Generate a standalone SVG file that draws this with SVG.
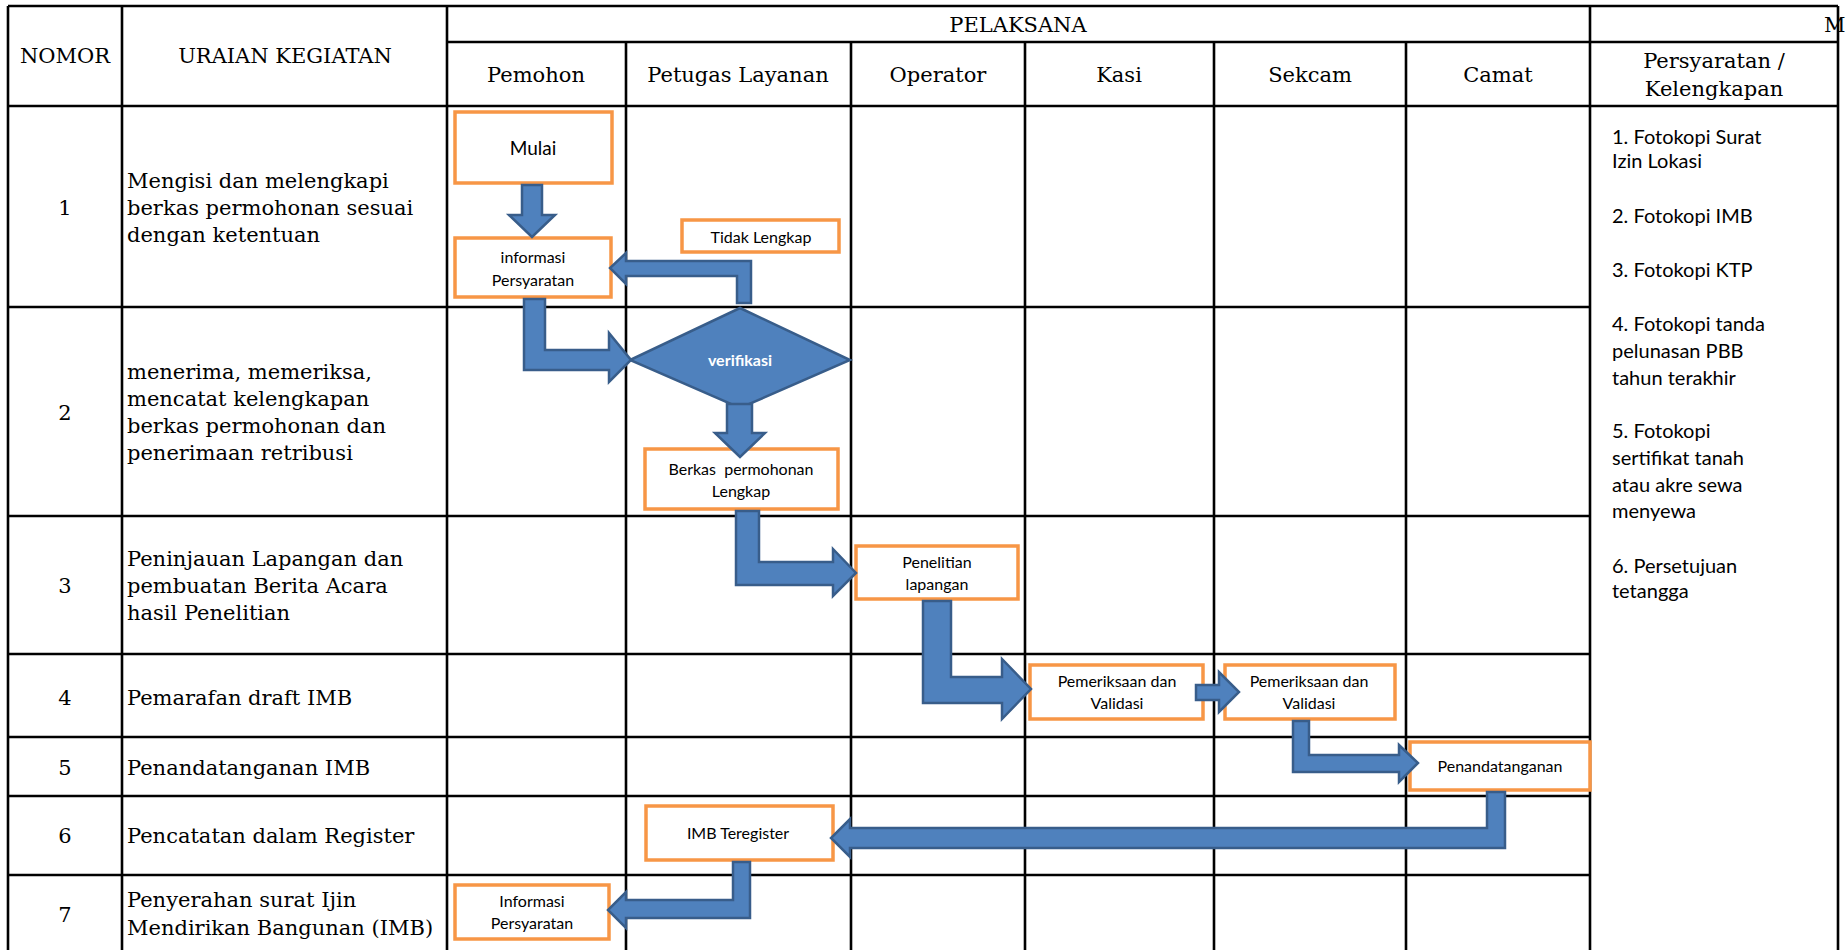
<svg xmlns="http://www.w3.org/2000/svg" width="1847" height="950" viewBox="0 0 1847 950">
<style>
.grid{stroke:#000;stroke-width:2.6;fill:none}
.ser{font-family:"DejaVu Serif","Liberation Serif",serif;font-size:21px;fill:#000}
.mid{text-anchor:middle}
.box{fill:#fff;stroke:#F79646;stroke-width:3.5}
.bt{font-family:Lato,"Liberation Sans",sans-serif;font-size:16px;fill:#000;text-anchor:middle}
.req{font-family:Lato,"Liberation Sans",sans-serif;font-size:20px;fill:#000}
.arr{fill:#4F81BD;stroke:#385D8A;stroke-width:2.5;stroke-linejoin:miter}
</style>
<rect width="1847" height="950" fill="#fff"/>
<g id="table">
<path class="grid" d="M8 6V950M122 6V950M447 6V950M626 42V950M851 42V950M1025 42V950M1214 42V950M1406 42V950M1590 6V950M1838 6V950"/>
<path class="grid" d="M8 6H1838M447 42H1838M8 106H1838M8 307H1590M8 516H1590M8 654H1590M8 737H1590M8 796H1590M8 875H1590"/>
</g>
<g id="headers" class="ser">
<text class="mid" x="65" y="63">NOMOR</text>
<text class="mid" x="285" y="63">URAIAN KEGIATAN</text>
<text class="mid" x="1018" y="32">PELAKSANA</text>
<text x="1824" y="32">M</text>
<text class="mid" x="536" y="82">Pemohon</text>
<text class="mid" x="738" y="82">Petugas Layanan</text>
<text class="mid" x="938" y="82">Operator</text>
<text class="mid" x="1119" y="82">Kasi</text>
<text class="mid" x="1310" y="82">Sekcam</text>
<text class="mid" x="1498" y="82">Camat</text>
<text class="mid" x="1714" y="68">Persyaratan /</text>
<text class="mid" x="1714" y="96">Kelengkapan</text>
</g>
<g id="rows" class="ser">
<text class="mid" x="65" y="215">1</text>
<text x="127" y="188">Mengisi dan melengkapi</text>
<text x="127" y="215">berkas permohonan sesuai</text>
<text x="127" y="242">dengan ketentuan</text>
<text class="mid" x="65" y="420">2</text>
<text x="127" y="379">menerima, memeriksa,</text>
<text x="127" y="406">mencatat kelengkapan</text>
<text x="127" y="433">berkas permohonan dan</text>
<text x="127" y="460">penerimaan retribusi</text>
<text class="mid" x="65" y="593">3</text>
<text x="127" y="566">Peninjauan Lapangan dan</text>
<text x="127" y="593">pembuatan Berita Acara</text>
<text x="127" y="620">hasil Penelitian</text>
<text class="mid" x="65" y="705">4</text>
<text x="127" y="705">Pemarafan draft IMB</text>
<text class="mid" x="65" y="775">5</text>
<text x="127" y="775">Penandatanganan IMB</text>
<text class="mid" x="65" y="843">6</text>
<text x="127" y="843">Pencatatan dalam Register</text>
<text class="mid" x="65" y="922">7</text>
<text x="127" y="907">Penyerahan surat Ijin</text>
<text x="127" y="935">Mendirikan Bangunan (IMB)</text>
</g>
<g id="requirements" class="req">
<text x="1612" y="144">1. Fotokopi Surat</text>
<text x="1612" y="168">Izin Lokasi</text>
<text x="1612" y="223">2. Fotokopi IMB</text>
<text x="1612" y="277">3. Fotokopi KTP</text>
<text x="1612" y="331">4. Fotokopi tanda</text>
<text x="1612" y="358">pelunasan PBB</text>
<text x="1612" y="385">tahun terakhir</text>
<text x="1612" y="438">5. Fotokopi</text>
<text x="1612" y="465">sertifikat tanah</text>
<text x="1612" y="492">atau akre sewa</text>
<text x="1612" y="518">menyewa</text>
<text x="1612" y="573">6. Persetujuan</text>
<text x="1612" y="598">tetangga</text>
</g>
<g id="n-mulai">
<rect class="box" x="455" y="112" width="157" height="71"/>
<text class="bt" x="533" y="155" style="font-size:19px">Mulai</text>
</g>
<g id="n-informasi1">
<rect class="box" x="455" y="238" width="156" height="59"/>
<text class="bt" x="533" y="263">informasi</text>
<text class="bt" x="533" y="286">Persyaratan</text>
</g>
<g id="n-tidak">
<rect class="box" x="682" y="220" width="157" height="32"/>
<text class="bt" x="761" y="243">Tidak Lengkap</text>
</g>
<g id="n-verifikasi">
<polygon points="740,308 850,360 740,408 630,360" fill="#4F81BD" stroke="#385D8A" stroke-width="2.5"/>
<text class="bt" x="740" y="366" style="fill:#fff;font-weight:bold">verifikasi</text>
</g>
<g id="n-berkas">
<rect class="box" x="645" y="449" width="193" height="60"/>
<text class="bt" x="741" y="475" xml:space="preserve">Berkas  permohonan</text>
<text class="bt" x="741" y="497">Lengkap</text>
</g>
<g id="n-penelitian">
<rect class="box" x="856" y="546" width="162" height="53"/>
<text class="bt" x="937" y="568">Penelitian</text>
<text class="bt" x="937" y="590">lapangan</text>
</g>
<g id="n-kasi">
<rect class="box" x="1030" y="665" width="173" height="54"/>
<text class="bt" x="1117" y="687">Pemeriksaan dan</text>
<text class="bt" x="1117" y="709">Validasi</text>
</g>
<g id="n-sekcam">
<rect class="box" x="1225" y="665" width="170" height="54"/>
<text class="bt" x="1309" y="687">Pemeriksaan dan</text>
<text class="bt" x="1309" y="709">Validasi</text>
</g>
<g id="n-camat">
<rect class="box" x="1410" y="742" width="180" height="48"/>
<text class="bt" x="1500" y="772">Penandatanganan</text>
</g>
<g id="n-register">
<rect class="box" x="646" y="806" width="187" height="54"/>
<text class="bt" x="738" y="839">IMB Teregister</text>
</g>
<g id="n-informasi2">
<rect class="box" x="455" y="885" width="154" height="54"/>
<text class="bt" x="532" y="907">Informasi</text>
<text class="bt" x="532" y="929">Persyaratan</text>
</g>
<g id="connectors">
<polygon class="arr" points="522,185 542,185 542,215 555,215 532,237 509,215 522,215"/>
<polygon class="arr" points="524,299 545,299 545,350 609,350 609,333 631,360 609,382 609,370 524,370"/>
<polygon class="arr" points="751,303 751,261 626,261 626,253 610,268 626,284 626,276 737,276 737,303"/>
<polygon class="arr" points="727,404 752,404 752,433 765,433 740,457 715,433 727,433"/>
<polygon class="arr" points="736,511 759,511 759,562 833,562 833,549 856,573 833,596 833,585 736,585"/>
<polygon class="arr" points="923,601 951,601 951,677 1002,677 1002,659 1031,689 1002,719 1002,703 923,703"/>
<polygon class="arr" points="1196,685 1219,685 1219,672 1239,692 1219,712 1219,700 1196,700"/>
<polygon class="arr" points="1293,721 1309,721 1309,755 1399,755 1399,745 1418,763 1399,782 1399,772 1293,772"/>
<polygon class="arr" points="1487,792 1505,792 1505,848 850,848 850,857 831,838 850,819 850,828 1487,828"/>
<polygon class="arr" points="733,862 750,862 750,918 626,918 626,928 608,910 626,892 626,900 733,900"/>
</g>
</svg>
